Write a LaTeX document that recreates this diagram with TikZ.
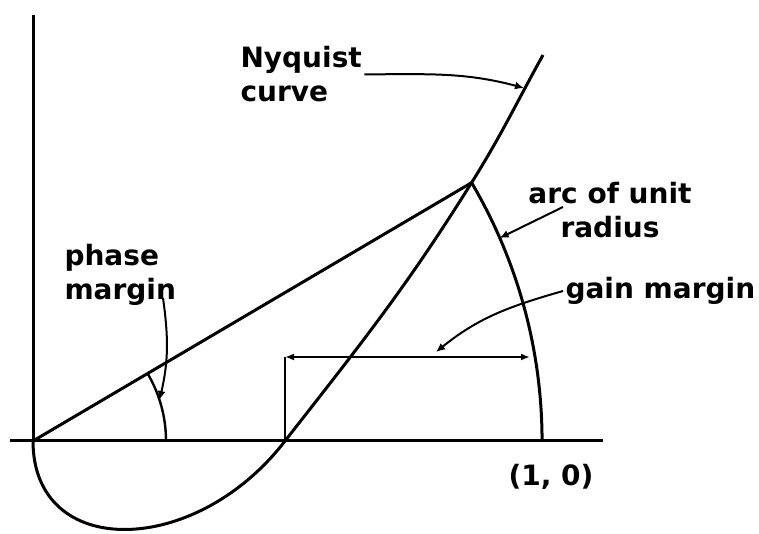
\documentclass[tikz,border=0pt]{standalone}
\usepackage{fontspec}
\setmainfont{DejaVu Sans}
\usetikzlibrary{arrows.meta}

\begin{document}
\begin{tikzpicture}[x=1pt, y=1pt, line width=3pt,
  lbl/.style={font=\bfseries\fontsize{28}{34}\selectfont, inner sep=1pt},
  lead/.style={line width=2pt, -{Latex[length=9pt,width=8pt]}},
  gap/.style={line width=2.4pt, {Latex[length=9pt,width=7pt]}-{Latex[length=9pt,width=7pt]}}]
\useasboundingbox (-33,-93) rectangle (726,441);
% axes and the points on them
\coordinate (O) at (0,0);
\coordinate (xl) at (-23,0);
\coordinate (xr) at (570,0);
\coordinate (yt) at (0,426);
\coordinate (A) at (252,0);
\coordinate (P) at (509,0);
\coordinate (C) at (438.6,258.3);
\coordinate (top) at (510,386);
\draw (xl) -- (xr);
\draw (O) -- (yt);
% Nyquist curve, unit arc, phase line
\draw (O) .. controls (0,-119) and (162,-117) .. (A) to[out=52,in=238] (C) to[out=58,in=241] (top);
\draw (O) -- (C);
\draw (C) arc[start angle=30.5, end angle=0, radius=509];
\draw[line width=2.4pt] (133,0) arc[start angle=0, end angle=30.5, radius=133];
% gain margin bracket
\coordinate (gA) at (252,84);
\coordinate (gB) at (497,84);
\draw[line width=2.4pt] (A) -- (gA);
\draw[gap] (gA) -- (gB);
% labels
\node[lbl, anchor=north west, align=left] (nyq) at (205,397) {Nyquist\\curve};
\node[lbl, anchor=north, align=center] (arc) at (577,261) {arc of unit\\radius};
\node[lbl, anchor=west] (gm) at (530,150) {gain margin};
\node[lbl, anchor=north west, align=left] (pm) at (29,199) {phase\\margin};
\node[lbl, anchor=north] (one) at (518,-21) {(1, 0)};
% leaders
\coordinate (nqtip) at (491,353);
\coordinate (arcfrom) at (530,234);
\coordinate (arctip) at (466.7,203);
\coordinate (gmtip) at (403,89);
\coordinate (pmfrom) at (130,143);
\coordinate (pmtip) at (126.5,41);
\draw[lead] (nyq.east) to[out=0,in=165] (nqtip);
\draw[lead] (arcfrom) -- (arctip);
\draw[lead] (gm.west) to[out=196,in=39] (gmtip);
\draw[lead] (pmfrom) to[out=-82,in=77] (pmtip);
\end{tikzpicture}
\end{document}
